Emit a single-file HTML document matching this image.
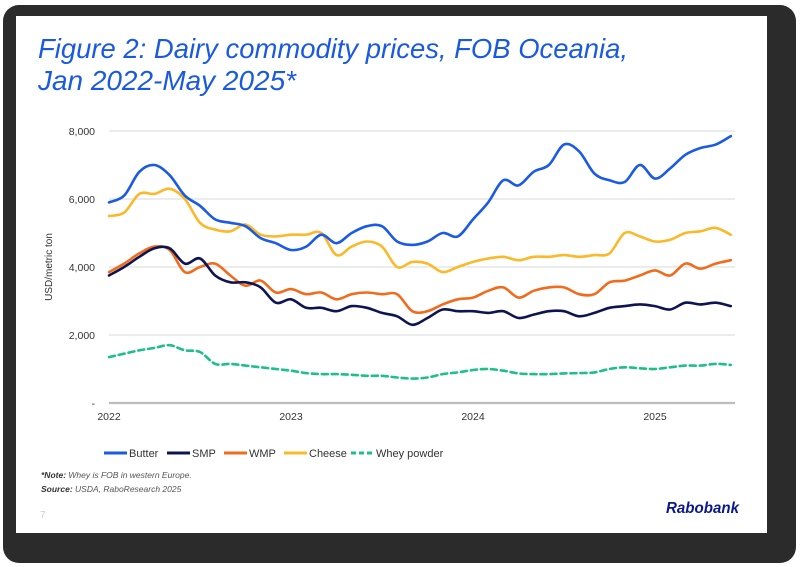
<!DOCTYPE html>
<html><head><meta charset="utf-8">
<style>
html,body{margin:0;padding:0;background:#fff;}
body{width:800px;height:567px;position:relative;overflow:hidden;font-family:"Liberation Sans",sans-serif;}
#frame{position:absolute;left:3px;top:5px;width:793px;height:558px;background:#2b2b2b;border-radius:16px;}
#slide{position:absolute;left:16px;top:16px;width:751px;height:517px;background:#fff;}
svg{position:absolute;left:0;top:0;}
</style></head>
<body>
<div id="frame"></div>
<div id="slide"></div>
<svg id="chart" width="800" height="567">
  <text x="38" y="58" font-size="28" font-style="italic" fill="#1a5ae0" textLength="590" lengthAdjust="spacingAndGlyphs">Figure 2: Dairy commodity prices, FOB Oceania,</text>
  <text x="38" y="90" font-size="28" font-style="italic" fill="#1a5ae0" textLength="258" lengthAdjust="spacingAndGlyphs">Jan 2022-May 2025*</text>
  <g id="grid"></g>
  <g id="series"></g>
  <text transform="translate(52,267) rotate(-90)" text-anchor="middle" font-size="10" fill="#333">USD/metric ton</text>
  <g id="legend" font-size="11" fill="#333"></g>
  <text x="41" y="478" font-size="8.5" font-style="italic" fill="#555"><tspan font-weight="bold" fill="#333">*Note:</tspan> Whey is FOB in western Europe.</text>
  <text x="41" y="492" font-size="8.5" font-style="italic" fill="#555"><tspan font-weight="bold" fill="#333">Source:</tspan> USDA, RaboResearch 2025</text>
  <text x="40" y="518" font-size="10" fill="#ccc">7</text>
  <text x="666" y="513" font-size="16" font-weight="bold" font-style="italic" fill="#0a1a8c" textLength="73" lengthAdjust="spacingAndGlyphs">Rabobank</text>
</svg>
<script>
const months = Array.from({length:42},(_,i)=>i); // Jan 2022 .. Jun 2025 (month index)
const yTicks = [0,2000,4000,6000,8000];
const yTickLabels = ["-","2,000","4,000","6,000","8,000"];
const xYears = [2022,2023,2024,2025];
const butter = [5.9,6.1,6.8,7.0,6.7,6.1,5.8,5.4,5.3,5.2,4.85,4.7,4.5,4.6,4.95,4.7,5.0,5.2,5.2,4.75,4.65,4.75,5.0,4.9,5.4,5.9,6.55,6.4,6.8,7.0,7.6,7.4,6.75,6.55,6.5,7.0,6.6,6.9,7.3,7.5,7.6,7.85];
const smp = [3.75,4.0,4.3,4.55,4.55,4.1,4.25,3.75,3.55,3.55,3.4,2.95,3.05,2.8,2.8,2.7,2.85,2.8,2.65,2.55,2.3,2.5,2.75,2.7,2.7,2.65,2.7,2.5,2.6,2.7,2.7,2.55,2.65,2.8,2.85,2.9,2.85,2.75,2.95,2.9,2.95,2.85];
const wmp = [3.85,4.1,4.4,4.6,4.5,3.85,4.0,4.1,3.75,3.45,3.6,3.25,3.35,3.2,3.25,3.05,3.2,3.25,3.2,3.2,2.7,2.7,2.9,3.05,3.1,3.3,3.4,3.1,3.3,3.4,3.4,3.2,3.2,3.55,3.6,3.75,3.9,3.75,4.1,3.95,4.1,4.2];
const cheese = [5.5,5.6,6.15,6.15,6.3,6.0,5.3,5.1,5.05,5.25,4.95,4.9,4.95,4.95,5.0,4.35,4.6,4.75,4.6,4.0,4.15,4.1,3.85,4.0,4.15,4.25,4.3,4.2,4.3,4.3,4.35,4.3,4.35,4.4,5.0,4.9,4.75,4.8,5.0,5.05,5.15,4.95];
const whey = [1.35,1.45,1.55,1.62,1.7,1.55,1.5,1.15,1.15,1.1,1.05,1.0,0.95,0.88,0.85,0.85,0.83,0.8,0.8,0.75,0.72,0.75,0.85,0.9,0.97,1.0,0.95,0.87,0.85,0.85,0.87,0.88,0.9,1.0,1.05,1.02,1.0,1.05,1.1,1.1,1.15,1.12];

const NS="http://www.w3.org/2000/svg";
const X0=109, X1=735, Y0=403, Y8=131;
const xScale = m => X0 + m*(182/12);
const yScale = v => Y0 - v/8000*(Y0-Y8);
function mk(tag, attrs, parent){const e=document.createElementNS(NS,tag);for(const k in attrs)e.setAttribute(k,attrs[k]);parent.appendChild(e);return e;}
const grid=document.getElementById('grid');
yTicks.forEach((t,i)=>{
  const y=yScale(t);
  const l=mk('line',{x1:X0,x2:X1,y1:y,y2:y,stroke:t===0?'#bdbdbd':'#e0e0e0','stroke-width':t===0?2.2:1.2},grid);
  
  
  const tx=mk('text',{x:95,y:y+4,'text-anchor':'end','font-size':10.5,fill:'#333'},grid);
  tx.textContent=yTickLabels[i];
  
  
});
xYears.forEach(yr=>{
  const x=xScale((yr-2022)*12);
  const tx=mk('text',{x:x,y:420,'text-anchor':'middle','font-size':10.5,fill:'#333'},grid);
  tx.textContent=String(yr);
  
  
});
function smoothPath(vals){
  const p=vals.map((v,i)=>[xScale(months[i]),yScale(v*1000)]);
  let d=`M${p[0][0]},${p[0][1]}`;
  for(let i=0;i<p.length-1;i++){
    const a=p[i-1]||p[i], b=p[i], c=p[i+1], e=p[i+2]||c;
    const c1=[b[0]+(c[0]-a[0])/6,b[1]+(c[1]-a[1])/6];
    const c2=[c[0]-(e[0]-b[0])/6,c[1]-(e[1]-b[1])/6];
    d+=` C${c1[0]},${c1[1]} ${c2[0]},${c2[1]} ${c[0]},${c[1]}`;
  }
  return d;
}
const seriesG=document.getElementById('series');
const defs=[
  {name:'whey',vals:whey,color:'#1dbf8a',dash:'6,4',label:'Whey powder'},
  {name:'cheese',vals:cheese,color:'#fbb829',label:'Cheese'},
  {name:'wmp',vals:wmp,color:'#f26b1d',label:'WMP'},
  {name:'smp',vals:smp,color:'#0d1452',label:'SMP'},
  {name:'butter',vals:butter,color:'#1a5ae6',label:'Butter'}
];
defs.forEach(s=>{
  const a={d:smoothPath(s.vals),fill:'none',stroke:s.color,'stroke-width':2.6,'stroke-linejoin':'round','stroke-linecap':'round'};
  if(s.dash)a['stroke-dasharray']=s.dash;
  const p=mk('path',a,seriesG);
  
  
});
const legendItems=[['Butter','#1a5ae6',104,null],['SMP','#0d1452',167,null],['WMP','#f26b1d',224,null],['Cheese','#fbb829',284,null],['Whey powder','#1dbf8a',351,'5,3']];
const lg=document.getElementById('legend');
legendItems.forEach(it=>{
  const g=mk('g',{},lg);
  
  
  const a={x1:it[2],x2:it[2]+23,y1:453,y2:453,stroke:it[1],'stroke-width':3};
  if(it[3])a['stroke-dasharray']=it[3];
  mk('line',a,g);
  const t=mk('text',{x:it[2]+25,y:457,'font-size':11,fill:'#333'},g);
  t.textContent=it[0];
});
</script>
</body></html>
